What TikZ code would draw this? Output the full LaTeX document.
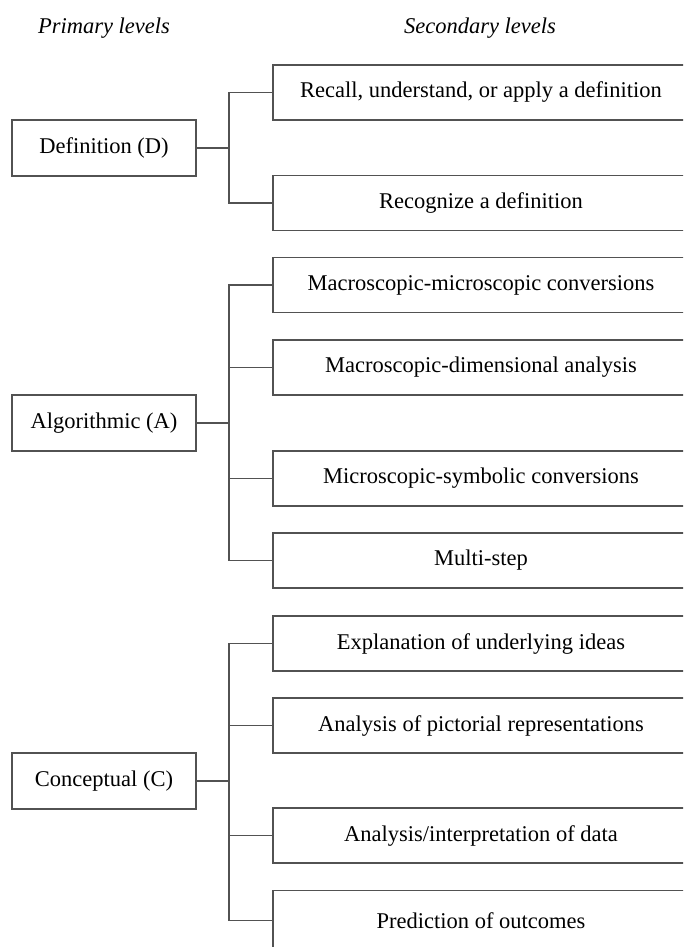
\documentclass[tikz,border=0pt]{standalone}
\usepackage{fontspec}
\setmainfont{Liberation Serif}
\begin{document}
\begin{tikzpicture}[x=1pt,y=-1pt,
  every node/.style={font=\fontsize{22.5}{27}\selectfont, inner sep=0pt},
  line/.style={draw=black!68, line width=1.6pt},
  prim/.style={line, minimum width=184pt, minimum height=56pt},
  sec/.style={line, minimum width=416pt, minimum height=55pt},
  head/.style={font=\fontsize{22.5}{27}\selectfont\itshape}]
\useasboundingbox (0,0) rectangle (683,947);
\clip (0,0) rectangle (683,947);
\fill[white] (0,0) rectangle (683,947);
\node[head] (hp) at (104,28) {Primary levels};
\node[head] (hs) at (480,28) {Secondary levels};
% primary
\node[prim] (D) at (104,148) {Definition (D)};
\node[prim] (A) at (104,423) {Algorithmic (A)};
\node[prim] (C) at (104,781) {Conceptual (C)};
% secondary
\node[sec] (R1) at (481,92.5) {Recall, understand, or apply a definition};
\node[sec] (R2) at (481,203) {Recognize a definition};
\node[sec] (M1) at (481,285) {Macroscopic-microscopic conversions};
\node[sec] (M2) at (481,367.5) {Macroscopic-dimensional analysis};
\node[sec] (M3) at (481,478.5) {Microscopic-symbolic conversions};
\node[sec] (M4) at (481,560.5) {Multi-step};
\node[sec] (E1) at (481,643.5) {Explanation of underlying ideas};
\node[sec] (E2) at (481,725.5) {Analysis of pictorial representations};
\node[sec] (E3) at (481,835.5) {Analysis/interpretation of data};
\node[sec, minimum height=60pt] (E4) at (481,920.5) {Prediction of outcomes};
% junctions
\coordinate (jD) at (229,148);
\coordinate (jA) at (229,423);
\coordinate (jC) at (229,781);
\draw[line] (D.east) -- (jD);
\draw[line] (jD) |- (R1.west);
\draw[line] (jD) |- (R2.west);
\draw[line] (A.east) -- (jA);
\draw[line] (jA) |- (M1.west);
\draw[line] (jA) |- (M2.west);
\draw[line] (jA) |- (M3.west);
\draw[line] (jA) |- (M4.west);
\draw[line] (C.east) -- (jC);
\draw[line] (jC) |- (E1.west);
\draw[line] (jC) |- (E2.west);
\draw[line] (jC) |- (E3.west);
\draw[line] (jC) |- (E4.west);
\end{tikzpicture}
\end{document}
